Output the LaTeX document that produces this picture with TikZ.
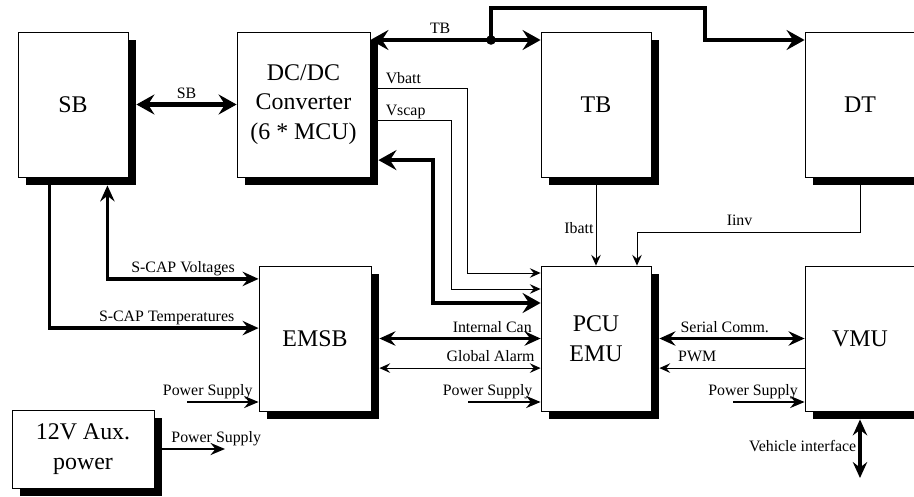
\documentclass[tikz,border=0pt]{standalone}
\usepackage{fontspec}
\setmainfont{Liberation Serif}
\usetikzlibrary{arrows.meta,shadows}

\begin{document}
\begin{tikzpicture}[
  unit/.style={draw, line width=0.6pt, fill=white, inner sep=0pt, align=center,
               minimum width=2.75cm, minimum height=3.625cm,
               font=\fontsize{17}{21}\selectfont,
               drop shadow={shadow xshift=2mm, shadow yshift=-2mm, fill=black, opacity=1}},
  bus/.style={line width=3.2pt, >={Stealth[length=4.5mm, width=5mm, inset=1.6mm]}},
  link/.style={line width=2.4pt, >={Stealth[length=4mm, width=3.6mm, inset=1.4mm]}},
  power/.style={line width=1.8pt, >={Stealth[length=3.6mm, width=3mm, inset=1.2mm]}},
  sig/.style={line width=0.6pt, >={Stealth[length=2.7mm, width=2.4mm, inset=1mm]}},
  lbl/.style={font=\fontsize{11.3}{13}\selectfont, inner sep=1.5pt},
  over/.style={lbl, anchor=base, yshift=4.5pt},
]

\useasboundingbox (0,0) rectangle (22.85,12.4);

% blocks
\node[unit] (sb) at (1.825,9.7875) {SB};
\node[unit, minimum width=3.325cm] (dcdc) at (7.5875,9.7875) {DC/DC\\Converter\\(6 * MCU)};
\node[unit] (tb) at (14.9,9.7875) {TB};
\node[unit] (dt) at (21.5,9.7875) {DT};
\node[unit, minimum width=2.8cm] (emsb) at (7.875,3.9375) {EMSB};
\node[unit] (pcu) at (14.9,3.9375) {PCU\\EMU};
\node[unit] (vmu) at (21.5,3.9375) {VMU};
\node[unit, minimum width=3.55cm, minimum height=1.95cm] (aux) at (2.075,1.175) {12V Aux.\\power};

% bend points and free ends
\coordinate (tbjoin) at (12.275,11.4);
\coordinate (tbhop) at (17.625,12.2);
\coordinate (vbattfoot) at (11.675,5.575);
\coordinate (vscapfoot) at (11.275,5.175);
\coordinate (pwrfoot) at (10.825,4.825);
\coordinate (iinvbend) at (15.925,6.6);
\coordinate (psemsb) at (4.675,2.35);
\coordinate (pspcu) at (11.7,2.35);
\coordinate (psvmu) at (18.325,2.35);
\coordinate (psaux) at (5.625,1.175);
\coordinate (vehicle) at (21.5,0.45);

% top row
\draw[bus,<->] ([xshift=2mm]sb.east) -- node[over] {SB} (dcdc.west);
\draw[bus,<->] (dcdc.east |- tbjoin) -- node[over, pos=0.41] {TB} (tb.west |- tbjoin);
\draw[bus,->] (tbjoin) |- (tbhop) |- (dt.west |- tbjoin);
\fill (tbjoin) circle[radius=0.12];

% measurements into the PCU
\draw[sig,->] ([yshift=4.1mm]dcdc.east)
  node[lbl, anchor=base west, xshift=3.2mm, yshift=3pt] {Vbatt}
  -| (vbattfoot) -- (pcu.west |- vbattfoot);
\draw[sig,->] ([yshift=-4.1mm]dcdc.east)
  node[lbl, anchor=base west, xshift=3.2mm, yshift=4pt] {Vscap}
  -| (vscapfoot) -- (pcu.west |- vscapfoot);
\draw[bus,<->] ([xshift=2mm,yshift=-13.9mm]dcdc.east) -| (pwrfoot) -- (pcu.west |- pwrfoot);
\draw[sig,->] (tb.south) -- node[lbl, left, pos=0.58] {Ibatt} (pcu.north);
\draw[sig,->] (dt.south) |- node[over, pos=0.77] {Iinv} (iinvbend) -- (iinvbend |- pcu.north);

% super-capacitor bank to EMSB
\draw[link,<->] ([xshift=-5.25mm,yshift=-2mm]sb.south east)
  |- node[over, pos=0.75] {S-CAP Voltages} ([yshift=14.9mm]emsb.west);
\draw[link,->] ([xshift=8mm]sb.south west)
  |- node[over, pos=0.78] {S-CAP Temperatures} ([yshift=2.6mm]emsb.west);

% bottom row
\draw[link,<->] ([xshift=2mm]emsb.east) -- node[over, pos=0.7] {Internal Can} (pcu.west);
\draw[sig,<->] ([xshift=2mm,yshift=-7.4mm]emsb.east) -- node[over, pos=0.69] {Global Alarm} ([yshift=-7.4mm]pcu.west);
\draw[link,<->] ([xshift=2mm]pcu.east) -- node[over, pos=0.45] {Serial Comm.} (vmu.west);
\draw[sig,->] ([yshift=-7.4mm]vmu.west) -- node[over, pos=0.74] {PWM} ([xshift=2mm,yshift=-7.4mm]pcu.east);

% supplies
\draw[power,->] (psemsb) -- node[over, pos=0.29] {Power Supply} (emsb.west |- psemsb);
\draw[power,->] (pspcu) -- node[over, pos=0.27] {Power Supply} (pcu.west |- pspcu);
\draw[power,->] (psvmu) -- node[over, pos=0.28] {Power Supply} (vmu.west |- psvmu);
\draw[power,->] ([xshift=2mm]aux.east) -- node[over, pos=0.86] {Power Supply} (psaux);
\draw[link,<->] ([yshift=-2mm]vmu.south) -- node[lbl, left, pos=0.46] {Vehicle interface} (vehicle);

\end{tikzpicture}
\end{document}
